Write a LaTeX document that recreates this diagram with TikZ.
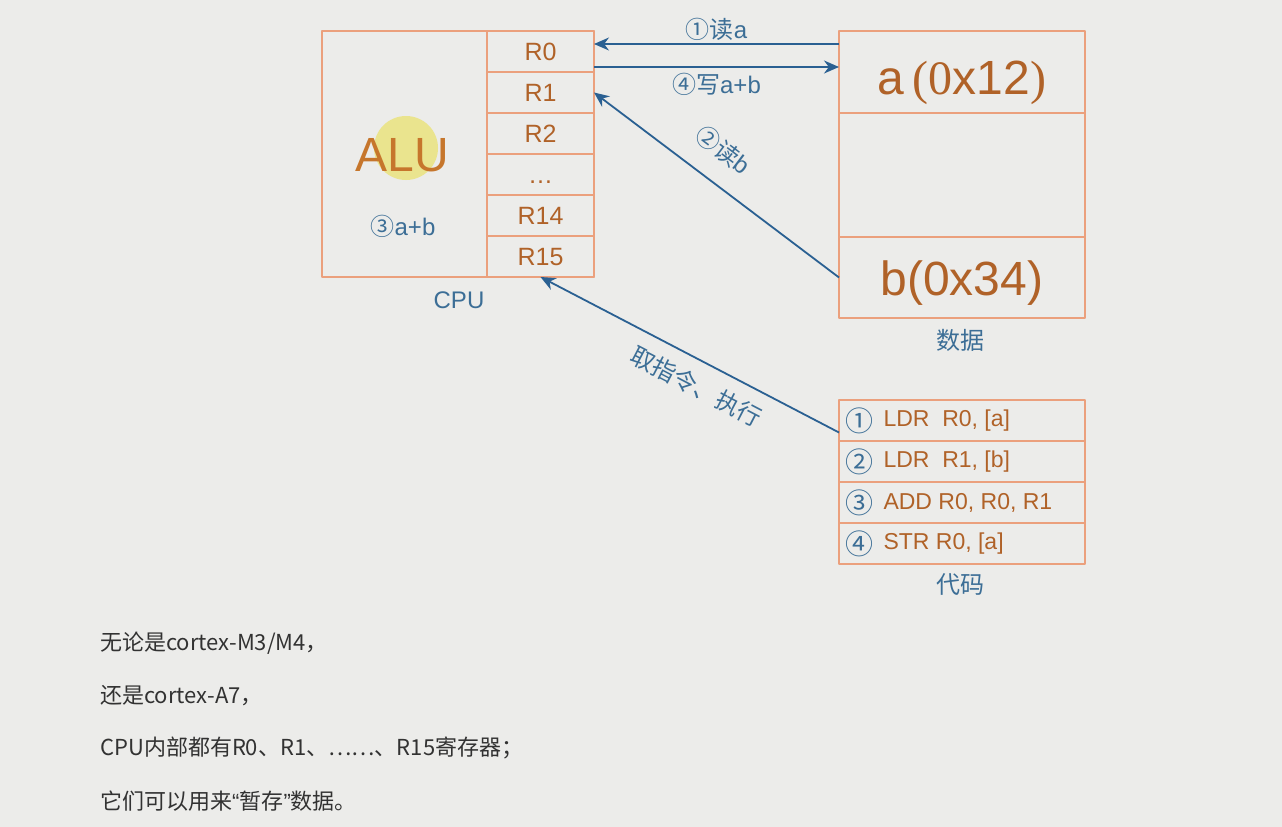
\documentclass[tikz,border=0pt]{standalone}
\usepackage{fontspec}
\setmainfont{Liberation Sans}
\newfontfamily\cjk{Noto Sans CJK SC}
\newfontfamily\lat{Liberation Sans}
\newfontfamily\thinser{Liberation Serif}
\usetikzlibrary{positioning,arrows.meta}
\definecolor{bgc}{RGB}{236,236,234}
\definecolor{boxc}{RGB}{235,160,125}
\definecolor{regc}{RGB}{176,98,40}
\definecolor{aluc}{RGB}{198,118,44}
\definecolor{hlc}{RGB}{234,228,142}
\definecolor{arrc}{RGB}{42,96,146}
\definecolor{labc}{RGB}{60,110,150}
\definecolor{txtc}{RGB}{50,50,50}
\newcommand{\fsz}[1]{\fontsize{#1}{#1}\selectfont}
\tikzset{
	box/.style={draw=boxc, line width=1.6pt, inner sep=0pt, outer sep=0pt},
	reg/.style={box, minimum width=107pt, minimum height=41pt, font=\fsz{25}, text=regc, text height=18pt, text depth=0pt},
	dcell/.style={box, minimum width=246pt, minimum height=#1, font=\fsz{48}, text=regc},
	code/.style={box, minimum width=246pt, minimum height=41pt},
	lab/.style={font=\fsz{24}, text=labc, inner sep=1pt},
	link/.style={draw=arrc, line width=1.8pt},
	note/.style={font=\cjk\fsz{22}, text=txtc, anchor=west, inner sep=0pt}
}
\begin{document}
\begin{tikzpicture}[x=1pt, y=-1pt, line join=round, >={Stealth[length=15pt,width=13pt]}]
	\fill[bgc] (0,0) rectangle (1282,827);
	% CPU
	\node[box, minimum width=272pt, minimum height=246pt] (cpu) at (458,154) {};
	\node[circle, fill=hlc, minimum size=64pt, inner sep=0pt] (hl) at (406,148) {};
	\node[font=\fsz{48}, text=aluc] (alu) at (402,155) {ALU};
	\node[lab] (sum) at (403,226) {{\cjk ③}a+b};
	\foreach \n/\t in {0/R0,1/R1,2/R2,3/\dots,4/R14,5/R15}
		{\node[reg] (r\n) at (540.5,{51.5+41*\n}) {\t};}
	\node[lab] (cpulab) at (459,300) {CPU};
	% data
	\node[dcell=82pt, text height=44pt, text depth=0pt] (da) at (962,72) {a\,{\thinser(0}x12{\thinser)}};
	\node[dcell=124pt] (dm) at (962,175) {};
	\node[dcell=81pt, text height=35pt, text depth=0pt] (db) at (962,277.5) {b(0x34)};
	\node[lab] (dlab) at (960,340) {\cjk 数据};
	% code
	\foreach \n/\c/\t in {1/①/{LDR~~R0, [a]},2/②/{LDR~~R1, [b]},3/③/{ADD R0, R0, R1},4/④/{STR R0, [a]}}
		{\node[code] (c\n) at (962,{379.5+41*\n}) {};
		\node[lab, font=\fsz{28}] (cn\n) at (859,{379.5+41*\n}) {\cjk\c};
		\node[font=\fsz{23}, text=regc, anchor=west] (ct\n) at (880,{379.5+41*\n}) {\t};}
	\node[lab] (clab) at (960,585) {\cjk 代码};
	% arrows
	\draw[link, ->] ([yshift=28pt]da.west) -- ([yshift=28pt]da.west -| r0.east)
		node[lab, midway, above=2pt] (l1) {{\cjk ①读}a};
	\draw[link, ->] ([yshift=5pt]da.west -| r0.east) -- ([yshift=5pt]da.west)
		node[lab, midway, below=4pt] (l4) {{\cjk ④写}a+b};
	\draw[link, <-] (r1.east) -- node[lab, sloped, above=19pt, pos=0.45] (l2) {{\cjk ②读}b} (db.west);
	\draw[link, <-] (r5.south) -- node[lab, sloped, below=12pt, pos=0.56] (lf) {\cjk 取指令、执行} ([yshift=-12pt]c1.west);
	% notes
	\foreach \n/\t/\y in {1/{无论是cortex-M3/M4，}/643,2/{还是cortex-A7，}/696,3/{CPU内部都有R0、R1、……、R15寄存器；}/748,4/{它们可以用来{\lat “}暂存{\lat ”}数据。}/801}
		{\node[note] (t\n) at (100,\y) {\t};}
\end{tikzpicture}
\end{document}
